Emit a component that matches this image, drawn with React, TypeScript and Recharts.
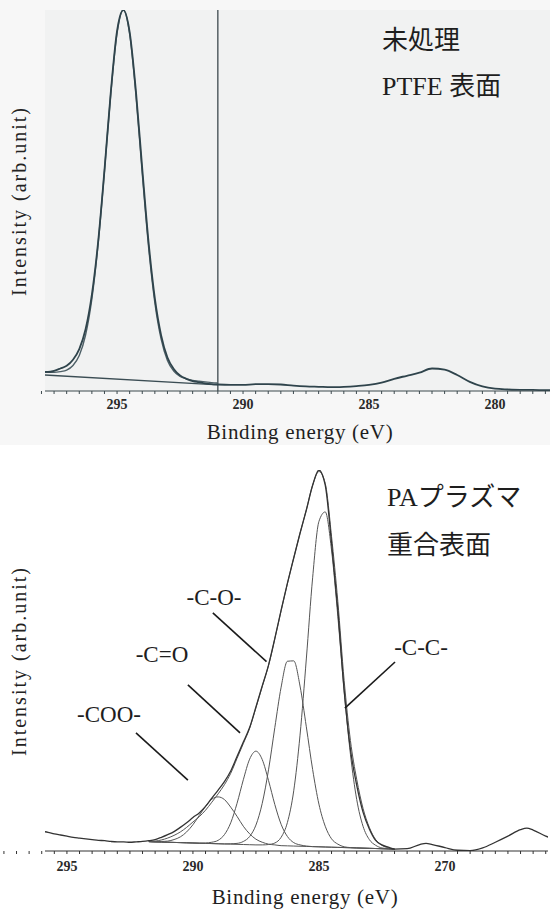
import { LineChart, Line, XAxis, YAxis, CartesianGrid, ReferenceLine } from "recharts";

// ---- upper panel: untreated PTFE, C1s ----
const ptfeE = [
  298.0, 297.75, 297.5, 297.25, 297.0, 296.75, 296.5, 296.25, 296.0, 295.75, 295.5, 295.25, 295.0,
  294.75, 294.5, 294.25, 294.0, 293.75, 293.5, 293.25, 293.0, 292.75, 292.5, 292.25, 292.0,
  291.75, 291.5, 291.25, 291.0, 290.5, 290.0, 289.5, 289.0, 288.5, 288.0, 287.5, 287.0, 286.5,
  286.0, 285.5, 285.0, 284.5, 284.0, 283.5, 283.0, 282.5, 282.0, 281.5, 281.0, 280.5, 280.0,
  279.5, 279.0, 278.5, 278.0, 277.5, 277.0,
];
const ptfeMeasured = [
  5.0, 5.0, 5.3, 5.9, 6.6, 8.2, 11.0, 16.2, 25.3, 39.2, 57.9, 78.3, 94.5,
  100.0, 94.2, 78.6, 58.4, 39.1, 24.3, 14.6, 8.8, 5.8, 4.1, 3.2, 2.6,
  2.3, 2.0, 1.8, 1.7, 1.6, 1.6, 1.8, 1.8, 1.7, 1.4, 1.2, 1.1, 1.0,
  1.1, 1.3, 1.6, 2.2, 3.2, 4.0, 4.8, 5.9, 5.6, 4.2, 2.4, 1.2, 0.6,
  0.4, 0.3, 0.3, 0.2, 0.2, 0.2,
];
// fitted peak (first part of ptfeE only)
const ptfeFit = [
  4.9, 4.9, 4.9, 5.1, 5.5, 6.7, 9.3, 14.7, 24.2, 38.7, 57.7, 78.0, 93.9,
  100.0, 93.7, 77.6, 57.1, 37.9, 23.2, 13.6, 8.0, 5.2, 3.8, 3.2, 2.8,
  2.6, 2.4, 2.2, 2.1,
];
const ptfeBaseE = [298.0, 291.0];
const ptfeBase = [4.25, 1.6];
const ptfeCutoff = 291.0;

// ---- lower panel: PA plasma polymerized surface ----
const paE = [
  296.0, 295.75, 295.5, 295.25, 295.0, 294.75, 294.5, 294.25, 294.0, 293.75, 293.5, 293.25,
  293.0, 292.75, 292.5, 292.25, 292.0, 291.75, 291.5, 291.25, 291.0, 290.75, 290.5, 290.25,
  290.0, 289.75, 289.5, 289.25, 289.0, 288.75, 288.5, 288.25, 288.0, 287.75, 287.5, 287.25,
  287.0, 286.75, 286.5, 286.25, 286.0, 285.75, 285.5, 285.25, 285.0, 284.75, 284.5, 284.25,
  284.0, 283.75, 283.5, 283.25, 283.0, 282.75, 282.5, 282.25, 282.0,
  281.5, 281.0, 280.75, 280.5, 280.0, 279.5, 279.0, 278.5, 278.0, 277.5, 277.0, 276.75,
  276.5, 276.0, 275.75,
];
const paMeasured = [
  5.2, 4.9, 4.5, 4.2, 3.9, 3.6, 3.4, 3.2, 3.0, 2.8, 2.7, 2.5,
  2.4, 2.4, 2.3, 2.4, 2.5, 2.7, 3.0, 3.6, 4.3, 5.1, 6.2, 7.4,
  8.8, 10.0, 11.7, 13.9, 16.0, 18.2, 21.0, 24.8, 28.6, 32.4, 37.8, 43.3,
  48.8, 55.8, 63.2, 70.3, 76.9, 83.4, 89.5, 96.0, 100.0, 96.0, 80.9, 63.3,
  42.2, 26.7, 17.2, 10.2, 5.8, 2.8, 1.6, 1.0, 0.5,
  0.6, 1.7, 2.0, 1.7, 0.9, 0.2, 0.1, 0.8, 2.3, 3.9, 5.6, 6.0,
  5.5, 3.9, 3.3,
];
// component grid
const paCompE = [
  291.75, 291.5, 291.25, 291.0, 290.75, 290.5, 290.25, 290.0, 289.75, 289.5,
  289.25, 289.0, 288.75, 288.5, 288.25, 288.0, 287.75, 287.5, 287.25, 287.0,
  286.75, 286.5, 286.25, 286.0, 285.75, 285.5, 285.25, 285.0, 284.75, 284.5,
  284.25, 284.0, 283.75, 283.5, 283.25, 283.0, 282.75, 282.5, 282.25, 282.0,
];
const paFit = [
  2.5, 2.6, 2.9, 3.4, 4.1, 5.0, 6.2, 7.6, 9.0, 10.7,
  12.8, 15.0, 17.4, 20.4, 24.3, 28.2, 32.2, 37.6, 43.2, 48.7,
  55.7, 63.1, 70.2, 76.9, 83.4, 89.5, 96.0, 99.6, 96.5, 82.6,
  65.5, 44.8, 29.0, 18.8, 11.2, 6.2, 3.0, 1.5, 0.8, 0.5,
];
const paCOO = [
  2.5, 2.4, 2.5, 2.6, 3.0, 3.7, 5.0, 6.9, 9.3, 11.7,
  13.6, 14.2, 13.5, 11.5, 9.1, 6.5, 4.5, 3.1, 2.3, 1.8,
  1.6, 1.4, 1.35, 1.3, 1.25, 1.2, 1.15, 1.1, 1.05, 1.0,
  0.95, 0.9, 0.85, 0.8, 0.75, 0.7, 0.65, 0.6, 0.55, 0.5,
];
const paCdO = [
  2.45, 2.4, 2.35, 2.3, 2.25, 2.2, 2.15, 2.1, 2.05, 2.1,
  2.3, 2.8, 4.3, 7.4, 12.5, 18.7, 24.1, 26.2, 24.0, 18.5,
  12.2, 7.0, 3.8, 2.2, 1.6, 1.3, 1.15, 1.1, 1.05, 1.0,
  0.95, 0.9, 0.85, 0.8, 0.75, 0.7, 0.65, 0.6, 0.55, 0.5,
];
const paCO = [
  2.45, 2.4, 2.35, 2.3, 2.25, 2.2, 2.15, 2.1, 2.05, 2.0,
  1.95, 1.9, 1.85, 1.9, 2.0, 2.5, 3.8, 6.8, 12.5, 21.3,
  32.4, 43.0, 49.8, 49.9, 43.3, 32.6, 21.4, 12.3, 6.5, 3.2,
  1.8, 1.1, 0.9, 0.8, 0.75, 0.7, 0.65, 0.6, 0.55, 0.5,
];
const paCC = [
  2.45, 2.4, 2.35, 2.3, 2.25, 2.2, 2.15, 2.1, 2.05, 2.0,
  1.95, 1.9, 1.85, 1.8, 1.75, 1.7, 1.65, 1.6, 1.6, 1.7,
  2.1, 3.6, 7.5, 15.8, 30.4, 50.4, 71.7, 86.5, 89.0, 79.0,
  61.6, 42.1, 25.4, 13.5, 6.5, 3.0, 1.5, 0.8, 0.6, 0.5,
];
// leader lines for the peak labels (energy, intensity)
const paLeaders = [
  [{ x: 289.21, y: 62.5 }, { x: 287.08, y: 49.7 }],
  [{ x: 290.2, y: 43.6 }, { x: 288.13, y: 31.0 }],
  [{ x: 292.26, y: 31.0 }, { x: 290.2, y: 18.6 }],
  [{ x: 281.98, y: 49.6 }, { x: 283.97, y: 37.5 }],
];

const majorTicks = [295, 290, 285, 280];
const ptfeTickLabels = ["295", "290", "285", "280"];
const paTickLabels = ["295", "290", "285", "270"]; // as printed in the original
const minorTicks: number[] = [];
for (let e = 298; e >= 276; e -= 0.5) minorTicks.push(e);
const yTicks = [0, 10, 20, 30, 40, 50, 60, 70, 80, 90, 100];

const SERIF = "'Liberation Serif', 'DejaVu Serif', 'Noto Serif', serif";
const SERIF_JP = "'Liberation Serif', 'DejaVu Serif', 'Noto Sans CJK JP', serif";

const toRows = (es: number[], vs: number[]) => es.map((e, i) => ({ e, v: vs[i] }));

function makeTick(labels: string[]) {
  return (props: any) => {
    const { x, y, payload } = props;
    const idx = majorTicks.indexOf(payload.value);
    if (idx < 0) return <g />;
    return (
      <text x={x} y={y} dy="0.71em" textAnchor="middle" fontFamily={SERIF} fontWeight="bold" fontSize={14} fill="#2a2a2a">
        {labels[idx]}
      </text>
    );
  };
}

function Abs({ x, y, size, children, center, family }: any) {
  return (
    <div
      style={{
        position: "absolute",
        left: x,
        top: y,
        transform: center ? "translate(-50%, -50%)" : "translateY(-50%)",
        fontFamily: family || SERIF,
        fontSize: size,
        color: "#1e1e1e",
        whiteSpace: "nowrap",
        lineHeight: 1,
      }}
    >
      {children}
    </div>
  );
}

function YTitle({ cy }: { cy: number }) {
  return (
    <div
      style={{
        position: "absolute",
        left: 19,
        top: cy,
        transform: "translate(-50%, -50%) rotate(-90deg)",
        fontFamily: SERIF,
        fontSize: 20,
        letterSpacing: 2,
        color: "#222",
        whiteSpace: "nowrap",
        lineHeight: 1,
      }}
    >
      Intensity (arb.unit)
    </div>
  );
}

export default function App() {
  const ptfeRows = toRows(ptfeE, ptfeMeasured);
  const ptfeFitRows = toRows(ptfeE.slice(0, ptfeFit.length), ptfeFit);
  const ptfeBaseRows = toRows(ptfeBaseE, ptfeBase);
  const paRows = toRows(paE, paMeasured);
  const comps = [paCOO, paCdO, paCO, paCC];

  return (
    <div style={{ position: "absolute", left: 0, top: 0, width: 550, height: 911, overflow: "hidden", background: "#fff" }}>
      {/* upper panel */}
      <div style={{ position: "absolute", left: 0, top: 0, width: 550, height: 445, background: "#f7f7f7" }}>
        <LineChart width={560} height={440} margin={{ top: 10, right: 0, left: 45, bottom: 19 }}>
          <CartesianGrid horizontal={false} vertical={false} fill="#f1f2f2" />
          <XAxis
            type="number"
            dataKey="e"
            domain={[277.42, 297.86]}
            reversed
            allowDataOverflow
            ticks={minorTicks}
            interval={0}
            tickSize={3}
            tickMargin={5}
            tick={makeTick(ptfeTickLabels)}
            stroke="#3d4a4f"
            height={30}
          />
          <XAxis xAxisId="t" orientation="top" type="number" domain={[277.42, 297.86]} reversed tick={false} tickLine={false} height={0} stroke="#3d4a4f" strokeWidth={1.5} />
          <YAxis type="number" domain={[0, 100]} allowDataOverflow ticks={yTicks} tickSize={3} tickFormatter={() => ""} width={0} stroke="#3d4a4f" strokeWidth={1.5} />
          <ReferenceLine x={ptfeCutoff} stroke="#3d4a4f" strokeWidth={1.3} />
          <Line data={ptfeBaseRows} dataKey="v" type="linear" stroke="#3b4d54" strokeWidth={1.4} dot={false} isAnimationActive={false} />
          <Line data={ptfeFitRows} dataKey="v" type="monotone" stroke="#4d5f66" strokeWidth={1.4} dot={false} isAnimationActive={false} />
          <Line data={ptfeRows} dataKey="v" type="monotone" stroke="#2f444c" strokeWidth={1.8} dot={false} isAnimationActive={false} />
        </LineChart>
        <Abs x={382} y={41} size={26} family={SERIF_JP}>未処理</Abs>
        <Abs x={382} y={87} size={26} family={SERIF_JP}>PTFE 表面</Abs>
        <Abs x={300} y={432} size={21} center>
          <span style={{ letterSpacing: 0.7 }}>Binding energy (eV)</span>
        </Abs>
        <YTitle cy={201} />
      </div>

      {/* lower panel */}
      <div style={{ position: "absolute", left: 0, top: 460, width: 550, height: 451 }}>
        <LineChart width={550} height={451} margin={{ top: 10, right: 2, left: 45, bottom: 30 }}>
          <XAxis
            type="number"
            dataKey="e"
            domain={[275.91, 295.87]}
            reversed
            allowDataOverflow
            ticks={minorTicks}
            interval={0}
            tickSize={3}
            tickMargin={7}
            tick={makeTick(paTickLabels)}
            stroke="#333"
            height={30}
          />
          <XAxis xAxisId="t" orientation="top" type="number" domain={[275.91, 295.87]} reversed tick={false} tickLine={false} height={0} stroke="#444" strokeWidth={1.3} />
          <YAxis type="number" domain={[0, 100]} allowDataOverflow ticks={yTicks} tickSize={3} tickFormatter={() => ""} width={0} stroke="#333" strokeWidth={1.3} />
          <YAxis yAxisId="r" orientation="right" type="number" domain={[0, 100]} tick={false} tickLine={false} width={0} stroke="#444" strokeWidth={1.2} />
          {comps.map((c, i) => (
            <Line key={i} data={toRows(paCompE, c)} dataKey="v" type="monotone" stroke="#555" strokeWidth={1} dot={false} isAnimationActive={false} />
          ))}
          <Line data={toRows(paCompE, paFit)} dataKey="v" type="monotone" stroke="#555" strokeWidth={1} dot={false} isAnimationActive={false} />
          <Line data={paRows} dataKey="v" type="monotone" stroke="#333" strokeWidth={1.3} dot={false} isAnimationActive={false} />
          {paLeaders.map((seg, i) => (
            <ReferenceLine key={i} segment={seg} stroke="#1a1a1a" strokeWidth={1.6} ifOverflow="visible" />
          ))}
        </LineChart>
        <Abs x={387} y={38} size={26} family={SERIF_JP}>PAプラズマ</Abs>
        <Abs x={387} y={86} size={26} family={SERIF_JP}>重合表面</Abs>
        <Abs x={214} y={137} size={23} center>-C-O-</Abs>
        <Abs x={162} y={194} size={23} center>-C=O</Abs>
        <Abs x={109} y={254} size={23} center>-COO-</Abs>
        <Abs x={421} y={187} size={23} center>-C-C-</Abs>
        <Abs x={305} y={437} size={21} center>
          <span style={{ letterSpacing: 0.7 }}>Binding energy (eV)</span>
        </Abs>
        <YTitle cy={201} />
      </div>
    </div>
  );
}
